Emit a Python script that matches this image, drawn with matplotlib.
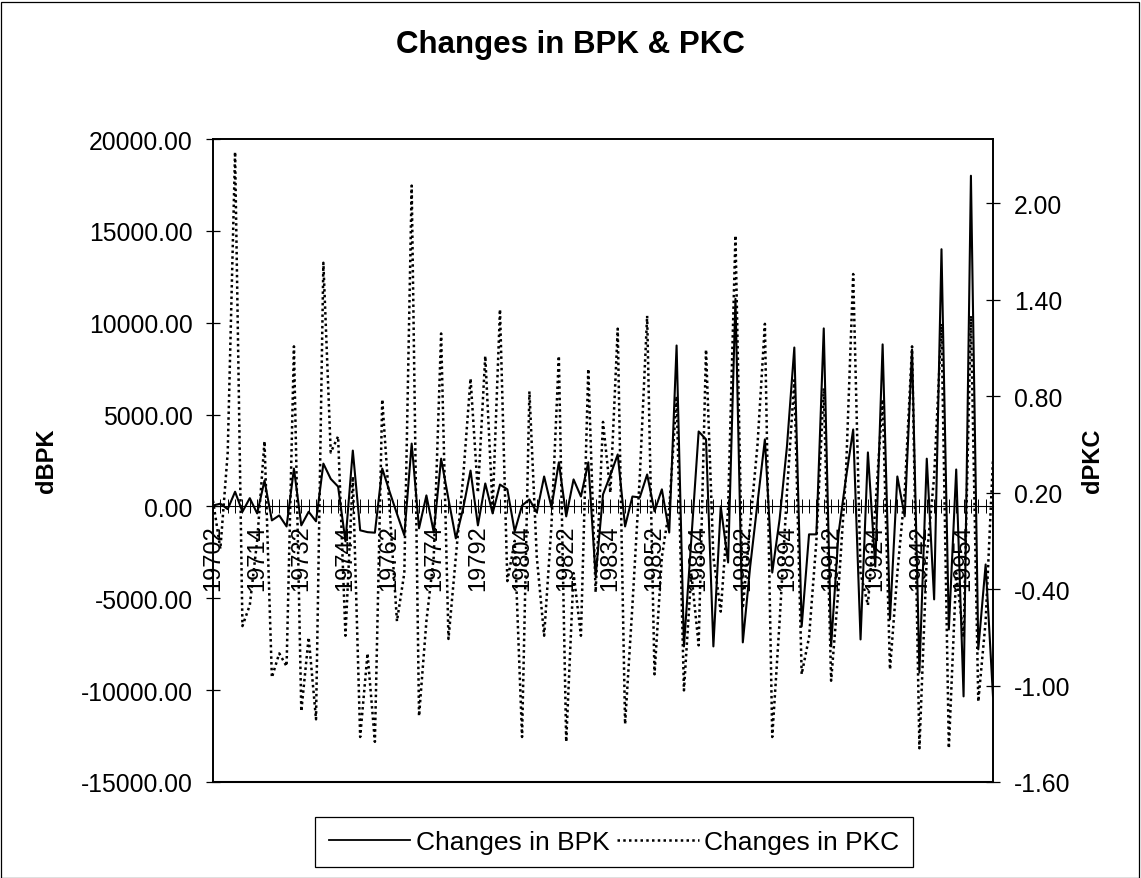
import matplotlib
matplotlib.use("Agg")
import matplotlib.pyplot as plt
from matplotlib.lines import Line2D
from matplotlib.patches import Rectangle
from matplotlib.ticker import FormatStrFormatter

plt.rcParams["font.family"] = ["Liberation Sans", "DejaVu Sans"]

# Quarterly changes, 1970 Q2 .. 1996 Q4
start_year, start_q, n_obs = 1970, 2, 107
periods = []
y, q = start_year, start_q
for _ in range(n_obs):
    periods.append(f"{y}{q}")
    q += 1
    if q > 4:
        q, y = 1, y + 1

tick_labels = ["19702", "19714", "19732", "19744", "19762", "19774", "19792",
               "19804", "19822", "19834", "19852", "19864", "19882", "19894",
               "19912", "19924", "19942", "19954"]

d_bpk = [50, 150, -150, 800, -290, 450, -380, 1410, -760, -490,
         -1090, 2060, -1030, -290, -810, 2330, 1500, 1080, -1900, 3040,
         -1300, -1400, -1430, 2060, 800, -400, -1570, 3420, -1190, 600,
         -1410, 2600, 400, -1740, -100, 1950, -1030, 1250, -380, 1190,
         930, -1360, 50, 380, -330, 1630, -50, 2400, -540, 1470,
         540, 2400, -3810, 650, 1700, 2830, -1090, 540, 490, 1740,
         -270, 930, -1420, 8760, -7620, -1800, 4080, 3650, -7620, 0,
         -3050, 11300, -7400, -3270, 200, 3650, -3600, -700, 3270, 8650,
         -6530, -1520, -1520, 9690, -7620, -1500, 1500, 4190, -7240, 2940,
         -3270, 8820, -6150, 1630, -540, 8550, -9040, 2600, -5060, 14000,
         -6700, 2010, -10340, 18000, -7780, -3160, -10340]

d_pkc = [0.15, -0.15, 0.45, 2.32, -0.63, -0.50, -0.10, 0.52, -0.95, -0.80,
         -0.88, 1.11, -1.16, -0.70, -1.21, 1.63, 0.45, 0.55, -0.69, 0.30,
         -1.32, -0.80, -1.35, 0.78, 0.10, -0.60, -0.30, 2.11, -1.19, -0.60,
         -0.20, 1.19, -0.71, -0.20, 0.30, 0.91, 0.20, 1.05, 0.10, 1.34,
         -0.35, -0.10, -1.32, 0.83, -0.20, -0.69, 0.00, 1.05, -1.35, -0.30,
         -0.69, 0.97, -0.42, 0.64, 0.20, 1.22, -1.24, -0.50, 0.30, 1.30,
         -0.93, -0.20, 0.10, 0.80, -1.03, -0.30, -0.75, 1.09, -0.20, -0.54,
         0.10, 1.80, -0.52, 0.00, 0.50, 1.25, -1.32, -0.60, 0.20, 0.90,
         -0.93, -0.70, -0.10, 0.85, -0.97, -0.40, 0.30, 1.56, -0.30, -0.50,
         0.10, 0.78, -0.90, -0.30, 0.20, 1.11, -1.39, -0.20, 0.30, 1.25,
         -1.39, -0.30, -0.70, 1.30, -1.10, -0.60, 0.41]

W, H = 1141, 879
fig = plt.figure(figsize=(W / 100, H / 100), dpi=100)
fig.patch.set_facecolor("white")

left, right, top, bottom = 213, 993, 140, 783
ax = fig.add_axes([left / W, 1 - bottom / H, (right - left) / W, (bottom - top) / H])

x = list(range(n_obs))
ax.plot(x, d_bpk, color="black", lw=1.5, zorder=3, label="Changes in BPK")
ax.set_xlim(0, n_obs - 1)
ax.set_ylim(-15000, 20000)
ax.set_yticks(range(-15000, 20001, 5000))
ax.yaxis.set_major_formatter(FormatStrFormatter("%.2f"))

# category axis crosses the value axis at zero
ax.spines["bottom"].set_position(("data", 0))
ax.spines["bottom"].set_linewidth(0.8)
for s in ("left", "right", "top"):
    ax.spines[s].set_linewidth(1.2)
ax.set_xticks(x)
ax.set_xticklabels([p if p in tick_labels else "" for p in periods])
ax.tick_params(axis="x", direction="inout", length=10, width=0.7,
               labelrotation=90, labelsize=17, pad=8)
ax.tick_params(axis="y", direction="inout", length=10, width=0.9,
               labelsize=17.8, pad=9.5)

ax2 = ax.twinx()
ax2.plot(x, d_pkc, color="black", lw=1.8, linestyle=(0, (1, 1.3)),
         zorder=3, label="Changes in PKC")
ax2.set_ylim(-1.6, 2.4)
ax2.set_yticks([-1.6, -1.0, -0.4, 0.2, 0.8, 1.4, 2.0])
ax2.yaxis.set_major_formatter(FormatStrFormatter("%.2f"))
ax2.tick_params(axis="y", direction="inout", length=10, width=0.9,
                labelsize=17.8, pad=10)
for s in ax2.spines.values():
    s.set_linewidth(1.2)
ax2.spines["bottom"].set_linewidth(1.5)

fig.text(570 / W, 1 - 45 / H, "Changes in BPK & PKC", ha="center", va="center",
         fontsize=22.5, fontweight="bold")
fig.text(46 / W, 1 - 461 / H, "dBPK", rotation=90, ha="center", va="center",
         fontsize=17, fontweight="bold")
fig.text(1092 / W, 1 - 461 / H, "dPKC", rotation=90, ha="center", va="center",
         fontsize=17, fontweight="bold")

handles = [Line2D([], [], color="black", lw=1.3),
           Line2D([], [], color="black", lw=1.8, linestyle=(0, (1, 1.3)))]
leg = fig.legend(handles, ["Changes in BPK", "Changes in PKC"], ncol=2,
                 loc="center", bbox_to_anchor=(614 / W, 1 - 843 / H),
                 frameon=True, fancybox=False, shadow=False, framealpha=1,
                 edgecolor="black", fontsize=19, handlelength=3.1,
                 handletextpad=0.2, columnspacing=0.3, borderpad=0.5)
leg.get_frame().set_linewidth(0.9)

fig.add_artist(Rectangle((0.5 / W, 0.5 / H), (W - 3) / W, (H - 3) / H,
                         transform=fig.transFigure, fill=False, lw=0.9,
                         edgecolor="black"))

fig.savefig("out.png", dpi=100)
